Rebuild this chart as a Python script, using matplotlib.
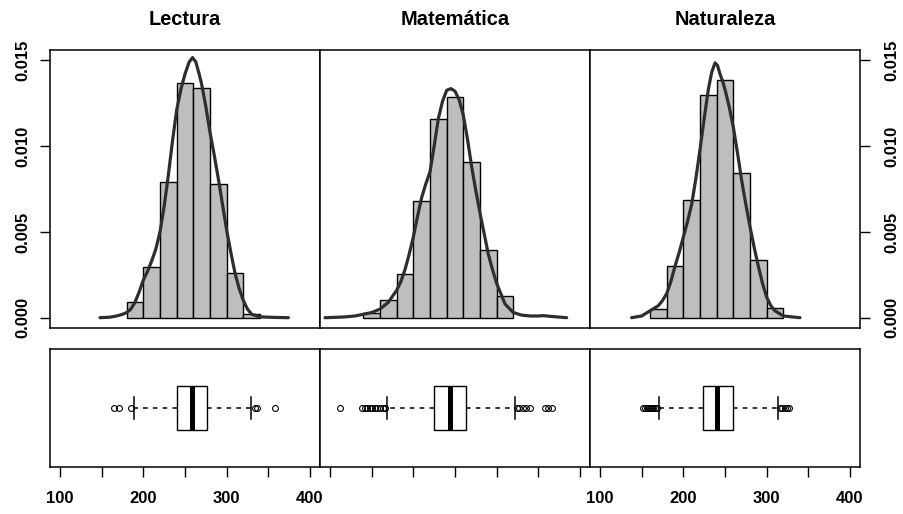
import matplotlib
matplotlib.use('Agg')
import matplotlib.pyplot as plt

plt.rcParams['font.family'] = ['Liberation Sans', 'DejaVu Sans']
plt.rcParams['font.weight'] = 'bold'

# ---------------- data ----------------
subjects = ['Lectura', 'Matemática', 'Naturaleza']

lect_edges = [180, 200, 220, 240, 260, 280, 300, 320, 340]
lect_hist = [0.00091, 0.00295, 0.0079, 0.0137, 0.01337, 0.00781, 0.0026, 0.00023]
mat_edges = [140, 160, 180, 200, 220, 240, 260, 280, 300, 320]
mat_hist = [0.00029, 0.00101, 0.00257, 0.00678, 0.01156, 0.01286, 0.00907, 0.00393, 0.00128]
nat_edges = [160, 180, 200, 220, 240, 260, 280, 300, 320]
nat_hist = [0.00052, 0.00299, 0.00684, 0.01296, 0.01387, 0.00845, 0.00334, 0.00056]

lect_kx = [148, 160, 168, 175, 180, 185, 190, 195, 200, 205, 210, 215, 220, 225,
           230, 235, 240, 245, 250, 255, 259, 263, 267, 270, 275, 280, 285, 290,
           295, 300, 305, 310, 315, 320, 325, 330, 340, 355, 374]
lect_ky = [0, 0.00003, 0.0001, 0.0002, 0.0003, 0.0005, 0.0009, 0.0015, 0.0022,
           0.0027, 0.0033, 0.0040, 0.0050, 0.0065, 0.0083, 0.0103, 0.0121, 0.0133,
           0.0142, 0.0149, 0.01516, 0.0149, 0.0142, 0.0136, 0.0123, 0.0108, 0.0095,
           0.0081, 0.0066, 0.0051, 0.0038, 0.0026, 0.0017, 0.0010, 0.0005, 0.0002,
           0.00005, 0.00002, 0]
mat_kx = [94, 116, 130, 140, 150, 160, 170, 180, 185, 190, 195, 200, 205, 210, 215,
          220, 225, 230, 235, 240, 245, 250, 255, 260, 265, 270, 275, 280, 285, 290,
          295, 300, 310, 320, 330, 340, 350, 356, 364, 384]
mat_ky = [0, 0.00004, 0.0001, 0.0002, 0.0003, 0.0005, 0.0009, 0.0016, 0.0021, 0.0028,
          0.0037, 0.0047, 0.0059, 0.0070, 0.0078, 0.0085, 0.0100, 0.0116, 0.0126,
          0.01325, 0.01335, 0.0132, 0.0127, 0.0118, 0.0104, 0.0088, 0.0074, 0.0061,
          0.0049, 0.0037, 0.0028, 0.0020, 0.0008, 0.0003, 0.00015, 0.0001, 0.0001,
          0.00012, 0.00008, 0]
nat_kx = [138, 150, 160, 170, 175, 180, 185, 190, 195, 200, 205, 210, 215, 220, 225,
          230, 234, 238, 241, 244, 247, 250, 255, 260, 265, 270, 275, 280, 285, 290,
          295, 300, 305, 310, 320, 340]
nat_ky = [0, 0.0001, 0.0004, 0.0007, 0.0010, 0.0014, 0.0021, 0.0030, 0.0038, 0.0047,
          0.0056, 0.0066, 0.0081, 0.0098, 0.0116, 0.0133, 0.0143, 0.01485, 0.0147,
          0.0142, 0.0138, 0.0133, 0.0123, 0.0111, 0.0096, 0.0080, 0.0066, 0.0053,
          0.0041, 0.0030, 0.0020, 0.0012, 0.0007, 0.0004, 0.0001, 0]

# boxplot five-number summaries: whislo, q1, med, q3, whishi
lect_box = [189, 241, 259, 277, 329]
mat_box = [168, 225, 244, 263, 322]
nat_box = [171, 224, 241, 260, 314]
lect_out = [165, 171, 185, 334, 336, 358]
mat_out = [112, 139, 142, 145, 148, 151, 154, 157, 160, 163, 166,
           324, 327, 331, 335, 340, 358, 361, 366]
nat_out = [152, 154, 156, 158, 160, 162, 164, 166, 168, 316, 319, 322, 325, 327]

x_ticks = [100, 150, 200, 250, 300, 350, 400]
x_ticklabels = ['100', '', '200', '', '300', '', '400']
y_ticks = [0.0, 0.005, 0.010, 0.015]
y_ticklabels = ['0.000', '0.005', '0.010', '0.015']

edges = [lect_edges, mat_edges, nat_edges]
hists = [lect_hist, mat_hist, nat_hist]
kxs = [lect_kx, mat_kx, nat_kx]
kys = [lect_ky, mat_ky, nat_ky]
boxes = [lect_box, mat_box, nat_box]
outs = [lect_out, mat_out, nat_out]

# ---------------- figure ----------------
W, H = 904, 514
fig = plt.figure(figsize=(W / 100, H / 100), dpi=100)


def px_axes(x0, y0, x1, y1):
    return fig.add_axes([x0 / W, 1 - y1 / H, (x1 - x0) / W, (y1 - y0) / H])


cols = [(50, 320), (320, 590), (590, 860)]
XLIM = (88, 412)
FS = 12

for i in range(3):
    x0, x1 = cols[i]
    # --- histogram panel ---
    ax = px_axes(x0, 50, x1, 328)
    e = edges[i]
    widths = [e[k + 1] - e[k] for k in range(len(e) - 1)]
    ax.bar(e[:-1], hists[i], width=widths, align='edge', color='#BEBEBE',
           edgecolor='black', linewidth=1.0, zorder=2)
    ax.plot(kxs[i], kys[i], color='#2e2e2e', linewidth=2.3, zorder=3,
            solid_joinstyle='round', solid_capstyle='round')
    ax.set_xlim(*XLIM)
    ax.set_ylim(-0.0006, 0.0156)
    ax.set_xticks([])
    for s in ax.spines.values():
        s.set_linewidth(1.1)
    if i == 0 or i == 2:
        ax.set_yticks(y_ticks)
        ax.set_yticklabels(y_ticklabels, rotation=90, va='center', ha='center')
        ax.tick_params(axis='y', length=7.2, width=1.0, labelsize=FS, pad=12)
        if i == 2:
            ax.yaxis.tick_right()
            ax.tick_params(axis='y', length=7.2, width=1.0, labelsize=FS, pad=16)
    else:
        ax.set_yticks([])
    fig.text(((x0 + x1) / 2) / W, 1 - 25 / H, subjects[i], ha='center',
             va='baseline', fontsize=14.4, fontweight='bold')

    # --- boxplot panel ---
    bx = px_axes(x0, 349, x1, 467)
    b = boxes[i]
    stats = [dict(whislo=b[0], q1=b[1], med=b[2], q3=b[3], whishi=b[4],
                  fliers=outs[i])]
    kw = dict(positions=[1], widths=0.4, capwidths=0.2, patch_artist=True,
              boxprops=dict(facecolor='white', edgecolor='black', linewidth=1.0),
              medianprops=dict(color='black', linewidth=3.6, solid_capstyle='butt'),
              whiskerprops=dict(color='black', linewidth=1.1, linestyle=(0, (3.0, 3.4))),
              capprops=dict(color='black', linewidth=1.1),
              flierprops=dict(marker='o', markerfacecolor='none',
                              markeredgecolor='black', markersize=4.2,
                              markeredgewidth=0.8))
    try:
        bx.bxp(stats, orientation='horizontal', **kw)
    except TypeError:
        bx.bxp(stats, vert=False, **kw)
    bx.set_xlim(*XLIM)
    bx.set_ylim(0.46, 1.54)
    bx.set_yticks([])
    bx.set_xticks(x_ticks)
    if i == 1:
        bx.set_xticklabels([''] * len(x_ticks))
    else:
        bx.set_xticklabels(x_ticklabels)
    bx.tick_params(axis='x', length=7.2, width=1.0, labelsize=FS, pad=10)
    for s in bx.spines.values():
        s.set_linewidth(1.1)

fig.savefig('out.png', dpi=100)
